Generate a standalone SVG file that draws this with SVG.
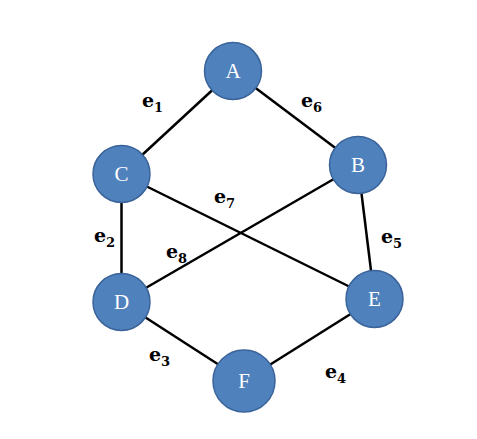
<svg xmlns="http://www.w3.org/2000/svg" width="477" height="439" viewBox="0 0 477 439">
<style>
.edge{stroke:#000;stroke-width:2.5;fill:none}
.node circle{fill:#4F81BD;stroke:#3A639A;stroke-width:1.5}
.node text{fill:#fff;font-family:"Liberation Serif",serif;font-size:21px;text-anchor:middle}
.lbl{font-family:"DejaVu Serif",serif;font-weight:bold;font-size:19px;fill:#000}
.lbl tspan.s{font-size:13px}
</style>
<rect width="477" height="439" fill="#fff"/>
<g id="connectors">
<line class="edge" x1="233" y1="71" x2="121.5" y2="174"/>
<line class="edge" x1="233" y1="71" x2="358" y2="165"/>
<line class="edge" x1="121.5" y1="174" x2="121.5" y2="302"/>
<line class="edge" x1="121.5" y1="174" x2="374.5" y2="299"/>
<line class="edge" x1="358" y1="165" x2="121.5" y2="302"/>
<line class="edge" x1="358" y1="165" x2="374.5" y2="299"/>
<line class="edge" x1="121.5" y1="302" x2="244" y2="381"/>
<line class="edge" x1="374.5" y1="299" x2="244" y2="381"/>
</g>
<g id="labels">
<text class="lbl" x="142" y="107">e<tspan class="s" dy="5">1</tspan></text>
<text class="lbl" x="301" y="107">e<tspan class="s" dy="5">6</tspan></text>
<text class="lbl" x="214" y="203">e<tspan class="s" dy="5">7</tspan></text>
<text class="lbl" x="94" y="242">e<tspan class="s" dy="5">2</tspan></text>
<text class="lbl" x="166" y="258">e<tspan class="s" dy="5">8</tspan></text>
<text class="lbl" x="381" y="243">e<tspan class="s" dy="5">5</tspan></text>
<text class="lbl" x="149" y="361">e<tspan class="s" dy="5">3</tspan></text>
<text class="lbl" x="325" y="378">e<tspan class="s" dy="5">4</tspan></text>
</g>
<g id="A" class="node"><circle cx="233" cy="71" r="28.5"/><text x="233" y="78">A</text></g>
<g id="B" class="node"><circle cx="358" cy="165" r="28.5"/><text x="358" y="172">B</text></g>
<g id="C" class="node"><circle cx="121.5" cy="174" r="28.5"/><text x="121.5" y="181">C</text></g>
<g id="D" class="node"><circle cx="121.5" cy="302" r="28.5"/><text x="121.5" y="309">D</text></g>
<g id="E" class="node"><circle cx="374.5" cy="299" r="28.5"/><text x="374.5" y="306">E</text></g>
<g id="F" class="node"><circle cx="244" cy="381" r="31"/><text x="244" y="388">F</text></g>
</svg>
